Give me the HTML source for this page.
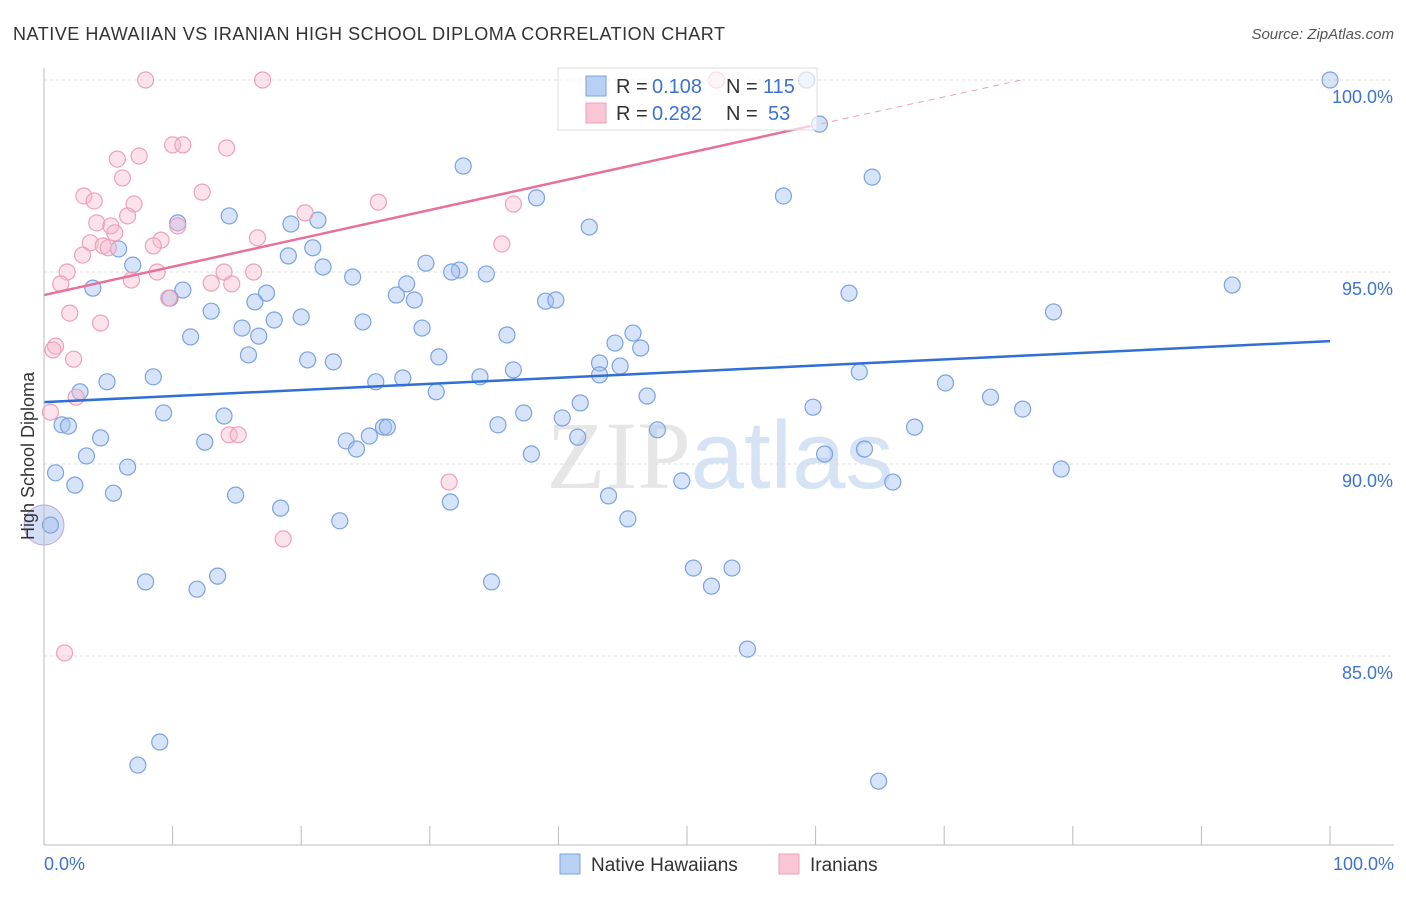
<!DOCTYPE html>
<html><head><meta charset="utf-8"><style>
body{margin:0;background:#fff;font-family:"Liberation Sans",sans-serif}
</style></head><body>
<svg id="chart" width="1406" height="892" xmlns="http://www.w3.org/2000/svg" font-family="Liberation Sans, sans-serif">
<text x="13" y="40" font-size="18" fill="#333" textLength="712" lengthAdjust="spacing">NATIVE HAWAIIAN VS IRANIAN HIGH SCHOOL DIPLOMA CORRELATION CHART</text>
<text x="1394" y="39" font-size="15" fill="#555" text-anchor="end" font-style="italic">Source: ZipAtlas.com</text>
<text x="720" y="488" font-size="96" fill="#e6e6e6" text-anchor="middle" font-family="Liberation Serif, serif">ZIP<tspan fill="#d6e3f5" font-family="Liberation Sans, sans-serif">atlas</tspan></text>
<g id="grid"></g><g id="marks"></g><g id="lines"></g>
<line x1="44" y1="845" x2="1394" y2="845" stroke="#bbb"/>
<line x1="44" y1="68" x2="44" y2="845" stroke="#bbb"/>
<text transform="translate(34,456) rotate(-90)" font-size="18" fill="#333" text-anchor="middle">High School Diploma</text>
<text x="44" y="870" font-size="18" fill="#3d72d0">0.0%</text>
<text x="1394" y="870" font-size="18" fill="#3d72d0" text-anchor="end">100.0%</text>
<g>
<rect x="558" y="68" width="259" height="62" fill="#fff" fill-opacity="0.65" stroke="#ddd"/>
<rect x="586" y="76" width="20" height="20" fill="#b9d0f5" stroke="#7aa3e0"/>
<rect x="586" y="103" width="20" height="20" fill="#f9c6d5" stroke="#eea0b8"/>
<text x="616" y="93" font-size="20" fill="#333">R =</text><text x="652" y="93" font-size="20" fill="#3d72d0">0.108</text>
<text x="726" y="93" font-size="20" fill="#333">N =</text><text x="763" y="93" font-size="20" fill="#3d72d0">115</text>
<text x="616" y="120" font-size="20" fill="#333">R =</text><text x="652" y="120" font-size="20" fill="#3d72d0">0.282</text>
<text x="726" y="120" font-size="20" fill="#333">N =</text><text x="768" y="120" font-size="20" fill="#3d72d0">53</text>
</g>
<g><rect x="560" y="854" width="20" height="20" fill="#b9d0f5" stroke="#7aa3e0"/><text x="591" y="871" font-size="19" fill="#333">Native Hawaiians</text></g>
<g><rect x="779" y="854" width="20" height="20" fill="#f9c6d5" stroke="#eea0b8"/><text x="810" y="871" font-size="19" fill="#333">Iranians</text></g>
</svg>
<script>
const yTicks=[100,95,90,85];
const xTicks=[0,10,20,30,40,50,60,70,80,90,100];
const blueX=[100,59.3,60.3,32.6,64.4,38.3,57.5,14.4,42.4,10.4,21.3,19.2,5.8,20.9,19.0,6.9,29.7,21.7,32.3,31.7,34.4,24.0,28.2,3.8,10.8,9.8,17.3,27.4,28.8,16.4,39.0,39.8,62.6,92.4,78.5,13.0,20.0,17.9,24.8,15.4,29.4,36.0,16.7,11.4,45.8,44.4,46.4,15.9,30.7,20.5,22.5,43.2,44.8,36.5,8.5,4.9,25.8,27.9,33.9,43.2,63.4,70.1,2.8,30.5,46.9,73.6,41.7,76.1,59.8,9.3,14.0,37.3,40.3,1.4,1.9,26.4,26.7,35.3,67.7,47.7,4.4,12.5,23.5,25.3,41.5,24.3,63.8,60.7,37.9,3.3,6.5,0.9,79.1,2.4,49.6,66.0,5.4,14.9,43.9,31.6,18.4,23.0,45.4,0.5,7.9,11.9,13.5,34.8,50.5,51.9,53.5,54.7,9.0,7.3,64.9];
const blueY=[100,100,98.85,97.76,97.47,96.93,96.98,96.46,96.17,96.28,96.35,96.25,95.6,95.63,95.42,95.18,95.23,95.13,95.05,95.0,94.95,94.87,94.69,94.58,94.53,94.32,94.45,94.4,94.27,94.22,94.24,94.27,94.45,94.66,93.96,93.98,93.83,93.75,93.7,93.54,93.54,93.36,93.33,93.31,93.41,93.15,93.02,92.84,92.79,92.71,92.66,92.63,92.55,92.45,92.27,92.14,92.14,92.24,92.27,92.32,92.4,92.11,91.88,91.88,91.77,91.74,91.59,91.43,91.48,91.33,91.25,91.33,91.2,91.02,90.99,90.96,90.96,91.02,90.96,90.89,90.68,90.57,90.6,90.73,90.7,90.39,90.39,90.26,90.26,90.21,89.92,89.77,89.87,89.45,89.56,89.53,89.24,89.19,89.17,89.01,88.85,88.52,88.57,88.41,86.93,86.74,87.08,86.93,87.29,86.82,87.29,85.18,82.76,82.16,81.74];
const pinkX=[7.9,17.0,52.3,10.0,10.8,14.2,5.7,7.4,6.1,12.3,3.1,3.9,7.0,26.0,36.5,6.5,20.3,4.1,5.2,5.5,10.4,16.6,3.6,9.1,4.6,5.0,8.5,35.6,3.0,1.8,8.8,14.0,16.3,1.3,6.8,13.0,14.6,9.7,2.0,4.4,0.9,0.7,2.3,2.5,0.5,14.4,15.1,31.5,18.6,1.6];
const pinkY=[100,100,100,98.31,98.31,98.23,97.94,98.02,97.45,97.08,96.98,96.85,96.77,96.82,96.77,96.46,96.54,96.28,96.2,96.02,96.2,95.89,95.76,95.83,95.68,95.63,95.68,95.73,95.44,95.0,95.0,95.0,95.0,94.69,94.79,94.71,94.69,94.32,93.93,93.67,93.07,92.97,92.73,91.74,91.35,90.76,90.76,89.53,88.05,85.08];
const blueTrend=[91.61,93.2];
const pinkTrend=[94.4,98.8,100];
const pinkTrendX=[0,59.6,76];
const NS='http://www.w3.org/2000/svg';
const sx=v=>44+v*12.86, sy=v=>80+(100-v)*38.4;
function mk(t,a,p){const e=document.createElementNS(NS,t);for(const k in a)e.setAttribute(k,a[k]);p.appendChild(e);return e;}
const grid=document.getElementById('grid'),marks=document.getElementById('marks'),lines=document.getElementById('lines');
yTicks.forEach(t=>{const l=mk('line',{x1:44,x2:1394,y1:sy(t),y2:sy(t),stroke:'#ddd','stroke-dasharray':'3,3'},grid);


const tx=mk('text',{x:1393,y:sy(t)+23,'font-size':18,fill:'#3d72d0','text-anchor':'end'},grid);tx.textContent=t.toFixed(1)+'%';

});
xTicks.forEach(t=>{const l=mk('line',{x1:sx(t),x2:sx(t),y1:826,y2:845,stroke:'#bbb'},grid);

});
const big=mk('circle',{cx:sx(0),cy:sy(88.41),r:20,fill:'rgba(170,190,235,0.5)',stroke:'#c0a8d8'},marks);


blueX.forEach((x,i)=>{const c=mk('circle',{cx:sx(x),cy:sy(blueY[i]),r:8,fill:'rgba(164,194,240,0.45)',stroke:'#7aa3e0','stroke-width':1.2},marks);

});
pinkX.forEach((x,i)=>{const c=mk('circle',{cx:sx(x),cy:sy(pinkY[i]),r:8,fill:'rgba(247,185,205,0.4)',stroke:'#eea0b8','stroke-width':1.2},marks);

});
const bl=mk('line',{x1:sx(0),y1:sy(blueTrend[0]),x2:sx(100),y2:sy(blueTrend[1]),stroke:'#2f6fd6','stroke-width':2.5},lines);


const pl=mk('line',{x1:sx(pinkTrendX[0]),y1:sy(pinkTrend[0]),x2:sx(pinkTrendX[1]),y2:sy(pinkTrend[1]),stroke:'#e8709a','stroke-width':2.5},lines);


const pd=mk('line',{x1:sx(pinkTrendX[1]),y1:sy(pinkTrend[1]),x2:sx(pinkTrendX[2]),y2:sy(pinkTrend[2]),stroke:'#eea0b8','stroke-width':1,'stroke-dasharray':'6,5'},lines);


</script>
</body></html>
